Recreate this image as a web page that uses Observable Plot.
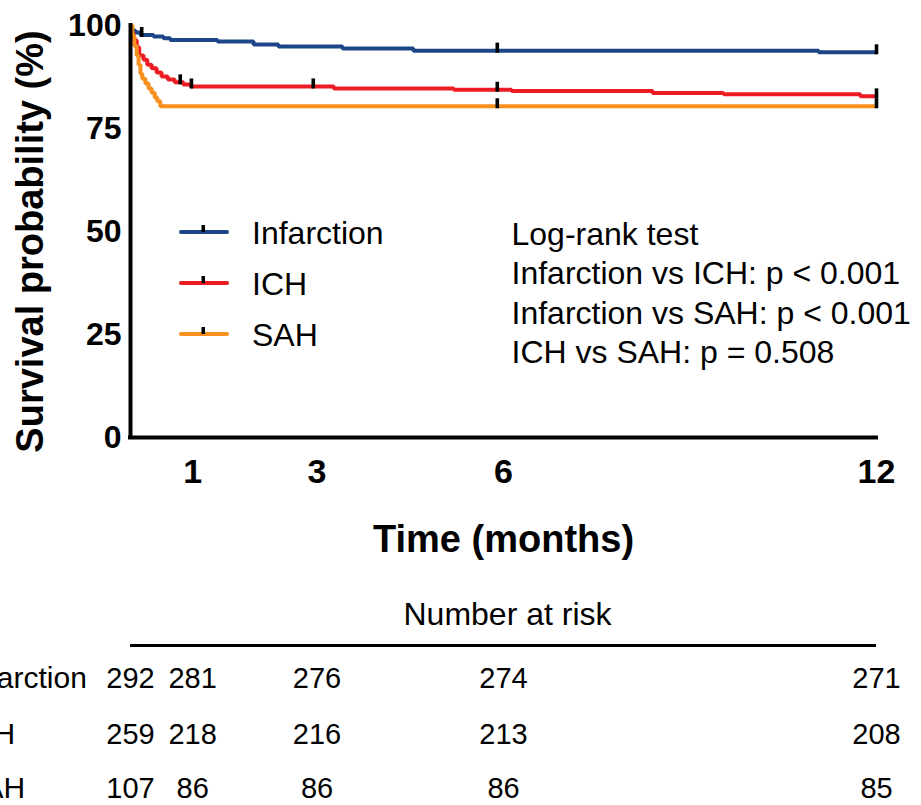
<!DOCTYPE html>
<html><head><meta charset="utf-8">
<script src="https://cdn.jsdelivr.net/npm/d3@7"></script>
<script src="https://cdn.jsdelivr.net/npm/@observablehq/plot@0.6"></script>
<style>
html,body{margin:0;padding:0;background:#fff;}
#chart{width:921px;height:805px;overflow:hidden;}
</style></head><body><div id="chart"></div>
<script>
// ---------- data ----------
const groups = ["Infarction", "ICH", "SAH"];
const colors = ["#1d4689", "#ed1c24", "#f7901e"];

const infarctionTime = [0, 0.02, 0.08, 0.16, 0.37, 0.53, 0.64, 1.40, 1.98, 2.38, 3.41, 4.55, 11.07, 12];
const infarctionSurv = [100, 98.8, 98.3, 97.7, 97.3, 96.9, 96.5, 96.1, 95.4, 94.9, 94.4, 93.9, 93.5, 93.5];

const ichTime = [0, 0.02, 0.05, 0.10, 0.14, 0.21, 0.27, 0.34, 0.42, 0.50, 0.60, 0.71, 0.85, 0.97, 3.27, 5.20, 6.13, 8.40, 9.54, 11.74, 12];
const ichSurv = [100, 98.1, 96.4, 94.7, 92.7, 91.7, 90.5, 89.6, 88.6, 87.6, 86.9, 86.2, 85.7, 85.2, 84.7, 84.4, 84.1, 83.6, 83.3, 82.8, 82.8];

const sahTime = [0, 0.03, 0.06, 0.10, 0.13, 0.16, 0.19, 0.24, 0.29, 0.34, 0.39, 0.43, 0.48, 12];
const sahSurv = [100, 97.6, 95.1, 92.7, 90.5, 88.3, 87.1, 85.9, 84.7, 83.7, 82.5, 81.6, 80.4, 80.4];

const censorInfarction = [0.18, 5.9, 12];
const censorICH = [0.8, 0.98, 2.94, 5.9, 12];
const censorSAH = [5.9, 12];

const xTicks = [1, 3, 6, 12];
const yTicks = [0, 25, 50, 75, 100];

const riskTimes = [0, 1, 3, 6, 12];
const riskInfarction = [292, 281, 276, 274, 271];
const riskICH = [259, 218, 216, 213, 208];
const riskSAH = [107, 86, 86, 86, 85];

const logRankLines = ["Log-rank test", "Infarction vs ICH: p < 0.001", "Infarction vs SAH: p < 0.001", "ICH vs SAH: p = 0.508"];
const yTitle = "Survival probability (%)";
const xTitle = "Time (months)";
const riskTitle = "Number at risk";

// ---------- tables ----------
const series = [
  [groups[0], infarctionTime, infarctionSurv, censorInfarction, riskInfarction],
  [groups[1], ichTime, ichSurv, censorICH, riskICH],
  [groups[2], sahTime, sahSurv, censorSAH, riskSAH]
];
const curves = series.flatMap(([g, T, S]) => T.map((t, i) => ({group: g, time: t, surv: S[i]})));
function survAt(T, S, t) { return S[Math.max(0, d3.bisectRight(T, t) - 1)]; }
const censors = series.flatMap(([g, T, S, C]) => C.map(t => ({group: g, time: t, surv: survAt(T, S, t)})));

const censorSymbol = {draw(ctx) { ctx.moveTo(-1.8, -8); ctx.lineTo(1.8, -8); ctx.lineTo(1.8, 2); ctx.lineTo(-1.8, 2); ctx.closePath(); }};

const font = "'Liberation Sans', Arial, Helvetica, sans-serif";
const rowDy = [241, 297, 351];

const riskMarks = series.flatMap(([g, , , , R], k) => [
  Plot.text([g], {frameAnchor: "bottom-left", dx: -167, dy: rowDy[k], textAnchor: "start", lineAnchor: "middle", fontSize: 30}),
  Plot.text(riskTimes.map((t, i) => ({time: t, n: R[i]})), {x: "time", text: d => String(d.n), frameAnchor: "bottom", dy: rowDy[k], textAnchor: "middle", lineAnchor: "middle", fontSize: 29})
]);

const plot = Plot.plot({
  width: 921, height: 805,
  marginLeft: 130, marginRight: 45, marginTop: 25, marginBottom: 368,
  style: {fontFamily: font, fontSize: "32px", color: "#000", background: "#fff", overflow: "visible"},
  x: {domain: [0, 12]},
  y: {domain: [0, 100]},
  color: {domain: groups, range: colors},
  marks: [
    Plot.axisX({ticks: xTicks, tickSize: 0, tickPadding: 21, fontSize: 34, fontWeight: "bold", label: null}),
    Plot.axisY({ticks: yTicks, tickSize: 0, tickPadding: 9, fontSize: 32, fontWeight: "bold", label: null}),
    Plot.line(curves, {x: "time", y: "surv", z: "group", stroke: "group", curve: "step-after", strokeWidth: 4, strokeLinejoin: "miter", strokeLinecap: "butt"}),
    Plot.dot(censors, {x: "time", y: "surv", symbol: censorSymbol, fill: "#000", stroke: "none", r: 4}),
    Plot.ruleX([0], {strokeWidth: 4, strokeLinecap: "square"}),
    Plot.ruleY([0], {strokeWidth: 4, strokeLinecap: "square"}),
    Plot.text([yTitle], {frameAnchor: "left", rotate: -90, dx: -100, dy: 10, textAnchor: "middle", lineAnchor: "middle", fontSize: 38, fontWeight: "bold"}),
    Plot.text([xTitle], {frameAnchor: "bottom", dy: 102, textAnchor: "middle", lineAnchor: "middle", fontSize: 38, fontWeight: "bold"}),
    Plot.text([logRankLines.join("\n")], {frameAnchor: "top-left", dx: 381, dy: 266, textAnchor: "start", lineAnchor: "middle", lineHeight: 1.22, fontSize: 32}),
    Plot.text([riskTitle], {frameAnchor: "bottom", dx: 4, dy: 177, textAnchor: "middle", lineAnchor: "middle", fontSize: 32}),
    Plot.ruleY([0], {dy: 208, strokeWidth: 3}),
    ...riskMarks
  ]
});

// ---------- legend (line swatches with censor tick) ----------
const svg = d3.select(plot);
const lg = svg.append("g").attr("font-family", font).attr("font-size", 32).attr("text-anchor", "start");
const legendY = [232, 283, 334];
groups.forEach((g, i) => {
  const y = legendY[i];
  lg.append("line").attr("x1", 181).attr("x2", 227).attr("y1", y).attr("y2", y)
    .attr("stroke", colors[i]).attr("stroke-width", 4).attr("stroke-linecap", "round");
  lg.append("rect").attr("x", 201.5).attr("y", y - 7).attr("width", 3.5).attr("height", 7).attr("fill", "#000");
  lg.append("text").attr("x", 252).attr("y", y).attr("dy", "0.36em").attr("text-anchor", "start").attr("fill", "#000").text(g);
});

document.getElementById("chart").appendChild(plot);
</script>
</body></html>
